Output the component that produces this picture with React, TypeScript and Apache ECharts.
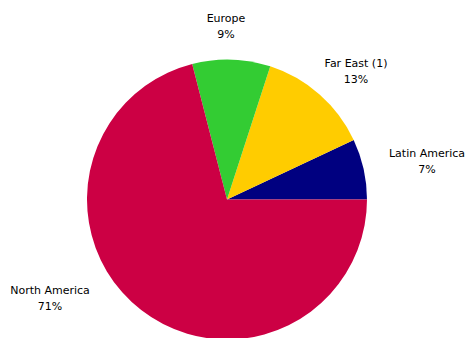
import React, { useEffect, useRef } from "react";
import * as echarts from "echarts";

const categories = ["Latin America", "Far East (1)", "Europe", "North America"];
const values = [7, 13, 9, 71];
const colors = ["#000080", "#FFCC00", "#33CC33", "#CC0044"];
const labelPos: [number, number][] = [
  [427, 161],
  [356, 71],
  [226, 26],
  [50, 298],
];

export default function App() {
  const ref = useRef<HTMLDivElement>(null);
  useEffect(() => {
    if (!ref.current) return;
    const chart = echarts.init(ref.current, undefined, { renderer: "svg" });
    chart.setOption({
      animation: false,
      backgroundColor: "#ffffff",
      series: [
        {
          type: "pie",
          center: [227, 199.5],
          radius: 140,
          startAngle: 0,
          clockwise: false,
          silent: true,
          data: categories.map((c, i) => ({
            name: c,
            value: values[i],
            itemStyle: { color: colors[i] },
          })),
          label: {
            show: true,
            position: "outside",
            formatter: "{b}\n{d}%",
            fontFamily: "DejaVu Sans",
            fontSize: 11,
            lineHeight: 16,
            color: "#000000",
            align: "center",
            overflow: "none",
            width: 120,
            alignTo: "none",
          },
          labelLine: { show: false },
          labelLayout: (params: any) => {
            const p = labelPos[params.dataIndex];
            return {
              x: p[0],
              y: p[1],
              align: "center",
              verticalAlign: "middle",
            };
          },
        },
      ],
    });
    return () => chart.dispose();
  }, []);
  return (
    <div
      ref={ref}
      style={{ position: "absolute", left: 0, top: 0, width: 470, height: 338 }}
    />
  );
}
